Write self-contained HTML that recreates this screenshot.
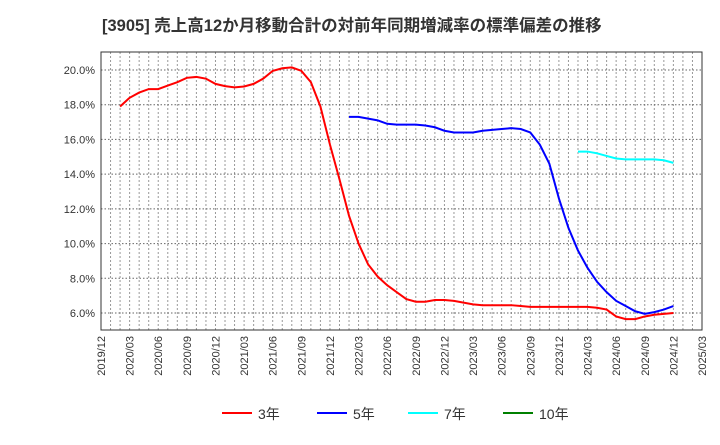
<!DOCTYPE html>
<html><head><meta charset="utf-8"><style>
body{margin:0;background:#fff;}
svg text{font-family:"Liberation Sans","Noto Sans CJK JP",sans-serif;}
</style></head><body>
<svg width="720" height="440" xmlns="http://www.w3.org/2000/svg">
<text x="102" y="31" font-size="16.5" font-weight="bold" fill="#333">[3905]  売上高12か月移動合計の対前年同期増減率の標準偏差の推移</text>
<g id="grid"></g>
<g id="axes"></g>
<g id="series"></g>
<g id="legend"></g>
</svg>
<script>
const yTicks=[6,8,10,12,14,16,18,20];
const xTickLabels=["2019/12","2020/03","2020/06","2020/09","2020/12","2021/03","2021/06","2021/09","2021/12","2022/03","2022/06","2022/09","2022/12","2023/03","2023/06","2023/09","2023/12","2024/03","2024/06","2024/09","2024/12","2025/03"];
const s3Start=2;
const s3=[17.9,18.4,18.7,18.9,18.9,19.1,19.3,19.55,19.6,19.5,19.2,19.07,19.0,19.05,19.2,19.5,19.95,20.1,20.15,19.95,19.3,17.9,15.7,13.7,11.6,10.0,8.8,8.1,7.6,7.2,6.8,6.65,6.65,6.75,6.75,6.7,6.6,6.5,6.45,6.45,6.45,6.45,6.4,6.35,6.35,6.35,6.35,6.35,6.35,6.35,6.3,6.2,5.8,5.65,5.65,5.8,5.9,5.95,6.0];
const s5Start=26;
const s5=[17.3,17.3,17.2,17.1,16.9,16.85,16.85,16.85,16.8,16.7,16.5,16.4,16.4,16.4,16.5,16.55,16.6,16.65,16.6,16.4,15.7,14.6,12.6,10.9,9.6,8.6,7.8,7.2,6.7,6.4,6.1,5.95,6.05,6.2,6.4];
const s7Start=50;
const s7=[15.3,15.3,15.2,15.05,14.9,14.85,14.85,14.85,14.85,14.8,14.65];
const legendLabels=["3年","5年","7年","10年"];
const colors=["#ff0000","#0000ff","#00ffff","#008000"];
const NS="http://www.w3.org/2000/svg";
const L=101,R=702,T=52,B=330;
const xm=m=>L+(R-L)*m/63;
const yv=v=>70+(20-v)*(313-70)/14;
function mk(tag,at,parent){const e=document.createElementNS(NS,tag);for(const k in at)e.setAttribute(k,at[k]);parent.appendChild(e);return e;}
const grid=document.getElementById('grid'),axes=document.getElementById('axes'),ser=document.getElementById('series'),leg=document.getElementById('legend');
for(let m=1;m<63;m++){const l=mk('line',{x1:xm(m),x2:xm(m),y1:T,y2:B,stroke:'#999','stroke-dasharray':'2,2','stroke-width':1},grid);

}
yTicks.forEach(v=>{const l=mk('line',{x1:L,x2:R,y1:yv(v),y2:yv(v),stroke:'#666','stroke-dasharray':'1.5,2','stroke-width':1},grid);


const t=mk('text',{x:L-6,y:yv(v)+4,'text-anchor':'end','font-size':11,fill:'#333'},axes);t.textContent=v.toFixed(1)+'%';

});
const fr=mk('rect',{x:L,y:T,width:R-L,height:B-T,fill:'none',stroke:'#333','stroke-width':1},axes);


xTickLabels.forEach((s,i)=>{const x=xm(i*3)+4,y=B+6;const t=mk('text',{x:x,y:y,'text-anchor':'end','font-size':11,fill:'#333',transform:`rotate(-90 ${x} ${y})`},axes);t.textContent=s;

});
[[s3,s3Start],[s5,s5Start],[s7,s7Start]].forEach(([d,st],i)=>{const p=mk('polyline',{points:d.map((v,j)=>xm(st+j)+','+yv(v)).join(' '),fill:'none',stroke:colors[i],'stroke-width':2},ser);

});
const lx=[222,317,408,503];
legendLabels.forEach((s,i)=>{const g=mk('g',{},leg);


mk('line',{x1:lx[i],x2:lx[i]+30,y1:413,y2:413,stroke:colors[i],'stroke-width':2},g);
const t=mk('text',{x:lx[i]+36,y:419,'font-size':14,fill:'#333'},g);t.textContent=s;});
</script>
</body></html>
